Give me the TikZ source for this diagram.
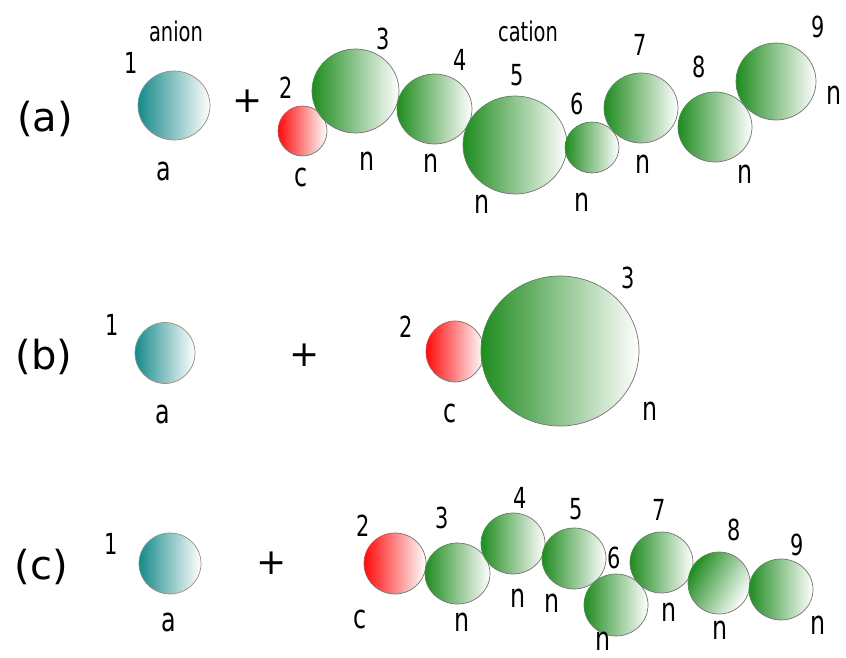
\documentclass[tikz,border=0pt]{standalone}
\usepackage{fontspec}
\setmainfont{DejaVu Sans}
\usetikzlibrary{shapes.geometric}
\definecolor{anionteal}{RGB}{22,138,138}
\definecolor{chaingreen}{RGB}{30,140,30}
\definecolor{headred}{RGB}{255,10,10}
\newcommand{\nar}[1]{\scalebox{0.72}[1]{#1}}
\begin{document}
\begin{tikzpicture}[x=1pt,y=-1pt,
  ball/.style={ellipse, inner sep=0pt, draw=black!55, line width=0.7pt, right color=white},
  anionball/.style={ball, left color=anionteal, draw=brown!50!black!60},
  headball/.style={ball, left color=headred},
  chainball/.style={ball, left color=chaingreen},
  wordtxt/.style={inner sep=0pt, font=\fontsize{27}{30}\selectfont},
  lettxt/.style={inner sep=0pt, font=\fontsize{33}{36}\selectfont},
  numtxt/.style={inner sep=0pt, font=\fontsize{29}{32}\selectfont},
  tagtxt/.style={inner sep=0pt, font=\fontsize{40}{44}\selectfont},
  plustxt/.style={inner sep=0pt, font=\fontsize{36}{40}\selectfont}]
\useasboundingbox (0,0) rectangle (846,658);

% ---------------- row (a) ----------------
\node[tagtxt] (tagA) at (45,119) {(a)};
\node[wordtxt] (anionW) at (176,31) {\nar{anion}};
\node[wordtxt] (cationW) at (528,31) {\nar{cation}};

\node[anionball, minimum width=72, minimum height=69] (a1) at (174,105.5) {};
\node[numtxt] (a1n) at (131,63) {\nar{1}};
\node[lettxt] (a1l) at (163.5,171.5) {\nar{a}};

\node[plustxt] (plusA) at (248,101) {+};

\node[headball, minimum width=49, minimum height=50] (a2) at (302.5,131) {};
\node[numtxt] (a2n) at (286.5,88) {\nar{2}};
\node[lettxt] (a2l) at (301,177.5) {\nar{c}};

\node[chainball, minimum width=87, minimum height=84] (a3) at (355.5,91) {};
\node[numtxt] (a3n) at (383.5,38.5) {\nar{3}};
\node[lettxt] (a3l) at (367.5,161) {\nar{n}};

\node[chainball, minimum width=75, minimum height=70] (a4) at (434.5,109) {};
\node[numtxt] (a4n) at (460.5,60) {\nar{4}};
\node[lettxt] (a4l) at (431.5,163) {\nar{n}};

\node[chainball, minimum width=104, minimum height=98] (a5) at (515,145) {};
\node[numtxt] (a5n) at (517.5,75) {\nar{5}};
\node[lettxt] (a5l) at (482.5,204) {\nar{n}};

\node[chainball, minimum width=54, minimum height=51] (a6) at (592,147.5) {};
\node[numtxt] (a6n) at (577.5,104) {\nar{6}};
\node[lettxt] (a6l) at (582.5,202) {\nar{n}};

\node[chainball, minimum width=74, minimum height=70] (a7) at (641,108) {};
\node[numtxt] (a7n) at (640,45) {\nar{7}};
\node[lettxt] (a7l) at (643,164) {\nar{n}};

\node[chainball, minimum width=74, minimum height=70] (a8) at (715,127) {};
\node[numtxt] (a8n) at (699,66.5) {\nar{8}};
\node[lettxt] (a8l) at (745.5,174) {\nar{n}};

\node[chainball, minimum width=80, minimum height=77] (a9) at (776,81.5) {};
\node[numtxt] (a9n) at (818,27) {\nar{9}};
\node[lettxt] (a9l) at (834.5,95) {\nar{n}};

% ---------------- row (b) ----------------
\node[tagtxt] (tagB) at (44,357) {(b)};

\node[anionball, minimum width=60, minimum height=61] (b1) at (165,353) {};
\node[numtxt] (b1n) at (112,325) {\nar{1}};
\node[lettxt] (b1l) at (163,414) {\nar{a}};

\node[plustxt] (plusB) at (305,355) {+};

\node[headball, minimum width=58, minimum height=61] (b2) at (455,351.5) {};
\node[numtxt] (b2n) at (406,327) {\nar{2}};
\node[lettxt] (b2l) at (450,413) {\nar{c}};

\node[chainball, minimum width=158, minimum height=150] (b3) at (560,351) {};
\node[numtxt] (b3n) at (628,278) {\nar{3}};
\node[lettxt] (b3l) at (650,411) {\nar{n}};

% ---------------- row (c) ----------------
\node[tagtxt] (tagC) at (41.5,566.5) {(c)};

\node[anionball, minimum width=62, minimum height=61] (c1) at (170,563.5) {};
\node[numtxt] (c1n) at (111,544) {\nar{1}};
\node[lettxt] (c1l) at (169,622) {\nar{a}};

\node[plustxt] (plusC) at (272,563) {+};

\node[headball, minimum width=62, minimum height=61] (c2) at (395,563.5) {};
\node[numtxt] (c2n) at (363,526) {\nar{2}};
\node[lettxt] (c2l) at (360,619) {\nar{c}};

\node[chainball, minimum width=65, minimum height=61] (c3) at (457.5,573.5) {};
\node[numtxt] (c3n) at (442,518) {\nar{3}};
\node[lettxt] (c3l) at (462,622) {\nar{n}};

\node[chainball, minimum width=64, minimum height=61] (c4) at (513,543.5) {};
\node[numtxt] (c4n) at (520,498) {\nar{4}};
\node[lettxt] (c4l) at (518,598) {\nar{n}};

\node[chainball, minimum width=64, minimum height=61] (c5) at (574,558.5) {};
\node[numtxt] (c5n) at (576,509) {\nar{5}};
\node[lettxt] (c5l) at (552,603) {\nar{n}};

\node[chainball, minimum width=64, minimum height=62] (c6) at (616,605) {};
\node[numtxt] (c6n) at (614,558) {\nar{6}};
\node[lettxt] (c6l) at (603,641) {\nar{n}};

\node[chainball, minimum width=63, minimum height=61] (c7) at (661.5,562.5) {};
\node[numtxt] (c7n) at (659.5,510) {\nar{7}};
\node[lettxt] (c7l) at (669,612) {\nar{n}};

\node[chainball, minimum width=62, minimum height=62, shading angle=60] (c8) at (719,583) {};
\node[numtxt] (c8n) at (734,530) {\nar{8}};
\node[lettxt] (c8l) at (720,630) {\nar{n}};

\node[chainball, minimum width=64, minimum height=61] (c9) at (781,589.5) {};
\node[numtxt] (c9n) at (797.5,545) {\nar{9}};
\node[lettxt] (c9l) at (818.5,625) {\nar{n}};
\end{tikzpicture}
\end{document}
